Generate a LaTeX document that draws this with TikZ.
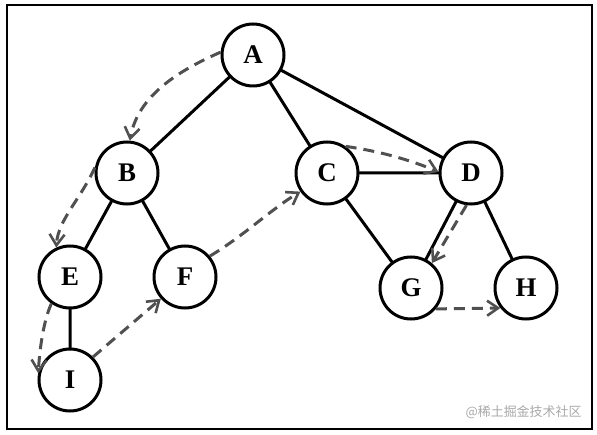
\documentclass[tikz,border=0pt]{standalone}
\usepackage{fontspec}
\setmainfont{Liberation Serif}
\newfontfamily\cjk{Noto Sans CJK SC}
\usetikzlibrary{arrows.meta}
\definecolor{dgray}{HTML}{505050}
\definecolor{wgray}{HTML}{A8A8A8}
\tikzset{
  vert/.style={circle, draw=black, line width=3bp, minimum size=62bp, inner sep=0pt,
    font=\fontsize{27}{27}\selectfont\bfseries, fill=white},
  edge/.style={line width=3bp, black},
  trav/.style={line width=3bp, dgray, dash pattern=on 11bp off 7bp,
    -{Straight Barb[length=11bp,width=15bp,line width=2.6bp]}},
}
\begin{document}
\begin{tikzpicture}[x=1bp,y=-1bp]
\useasboundingbox (0,0) rectangle (597,435);
\draw[line width=2.2bp] (7,5) rectangle (592,429);
\coordinate (pA) at (253,55);
\coordinate (pB) at (127,173);
\coordinate (pC) at (327,173);
\coordinate (pD) at (471,173);
\coordinate (pE) at (70,277);
\coordinate (pF) at (185,277);
\coordinate (pI) at (70,380);
\coordinate (pG) at (411,288);
\coordinate (pH) at (526,288);
\draw[edge] (pA)--(pB) (pA)--(pC) (pA)--(pD) (pB)--(pE) (pB)--(pF) (pE)--(pI)
  (pC)--(pD) (pC)--(pG) (pD)--(pG) (pD)--(pH);
\node[vert] (A) at (pA) {A};
\node[vert] (B) at (pB) {B};
\node[vert] (C) at (pC) {C};
\node[vert] (D) at (pD) {D};
\node[vert] (E) at (pE) {E};
\node[vert] (F) at (pF) {F};
\node[vert] (I) at (pI) {I};
\node[vert] (G) at (pG) {G};
\node[vert] (H) at (pH) {H};
% traversal arrows
\draw[trav] (A.175) .. controls (180,70) and (138,95) .. (B.85);
\draw[trav] (B.170) .. controls (80,200) and (58,220) .. (E.115);
\draw[trav] (E.235) .. controls (44,320) and (40,345) .. (I.168);
\draw[trav] (I.45) -- (F.222);
\draw[trav] (F.40) .. controls (245,235) and (270,210) .. (C.215);
\draw[trav] (C.55) .. controls (385,152) and (415,162) .. (D.178);
\draw[trav] (D.262) -- (G.50);
\draw[trav] (G.320) -- (H.218);
\node[wgray, font=\cjk\fontsize{13}{13}\selectfont, anchor=east] (wm) at (585,412) {@稀土掘金技术社区};
\end{tikzpicture}
\end{document}
